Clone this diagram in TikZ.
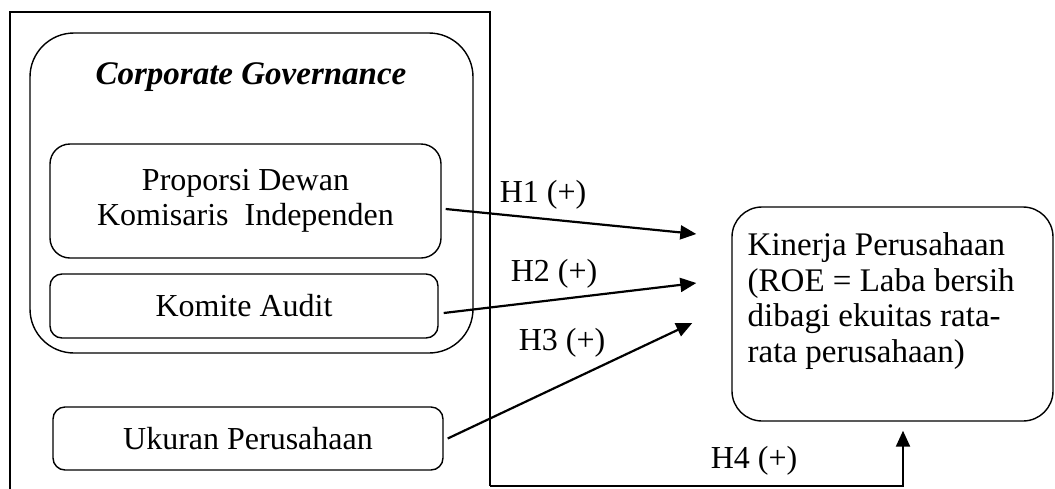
\documentclass[tikz,border=0pt]{standalone}
\usepackage{fontspec}
\setmainfont{Liberation Serif}
\usepackage{tikz}
\usetikzlibrary{calc,positioning,arrows.meta}

\tikzset{
  kotak/.style={draw, line width=0.7pt, inner sep=0pt},
  panah/.style={line width=1.1pt, -{Triangle[length=8pt,width=7pt]}},
  teks/.style={font=\fontsize{16}{17.5}\selectfont, inner sep=0pt}
}

\begin{document}
\begin{tikzpicture}[x=0.5pt,y=-0.5pt]
			\useasboundingbox (0,0) rectangle (1055,488);
			% bingkai luar
			\draw[line width=0.7pt] (10,490) -- (10,12) -- (490,12) -- (490,486);
			\coordinate (bingkai) at (490,486);
			% corporate governance
			\node[kotak, rounded corners=22pt, minimum width=221.5pt, minimum height=160pt] (cg) at (251.5,193) {};
			\node[teks, font=\fontsize{16.5}{17.5}\selectfont\bfseries\itshape] (judul) at (251,77) {Corporate Governance};
			\node[kotak, teks, rounded corners=10pt, align=center, minimum width=195.5pt, minimum height=57pt] (proporsi) at (245.5,201) {Proporsi Dewan\\Komisaris~ Independen};
			\node[kotak, teks, rounded corners=6pt, minimum width=194pt, minimum height=32pt] (komite) at (244,306) {Komite Audit};
			\node[kotak, teks, rounded corners=6pt, minimum width=195pt, minimum height=31.5pt] (ukuran) at (248,438.5) {Ukuran Perusahaan};
			% variabel dependen
			\node[kotak, rounded corners=15pt, minimum width=160.5pt, minimum height=107pt] (kinerja) at (892.5,314) {};
			\node[teks, font=\fontsize{16.5}{17.8}\selectfont, align=left, anchor=north west] (kinerjateks) at ($(kinerja.north west)+(16,26)$) {Kinerja Perusahaan\\(ROE = Laba bersih\\dibagi ekuitas rata-\\rata perusahaan)};
			% hipotesis
			\draw[panah] ($(proporsi.east)+(4,8)$) -- ($(kinerja.west)+(-35,-80)$);
			\draw[panah] ($(komite.east)+(5,7)$) -- ($(kinerja.west)+(-35,-31)$);
			\draw[panah] ($(ukuran.east)+(4,0)$) -- ($(kinerja.west)+(-39,9)$);
			\draw[panah] (bingkai) -| ($(kinerja.south)+(10.5,9)$);
			\node[teks] (h1) at (543,195) {H1 (+)};
			\node[teks] (h2) at (554,274) {H2 (+)};
			\node[teks] (h3) at (562,343) {H3 (+)};
			\node[teks] (h4) at (754,461) {H4 (+)};
		\end{tikzpicture}
\end{document}
